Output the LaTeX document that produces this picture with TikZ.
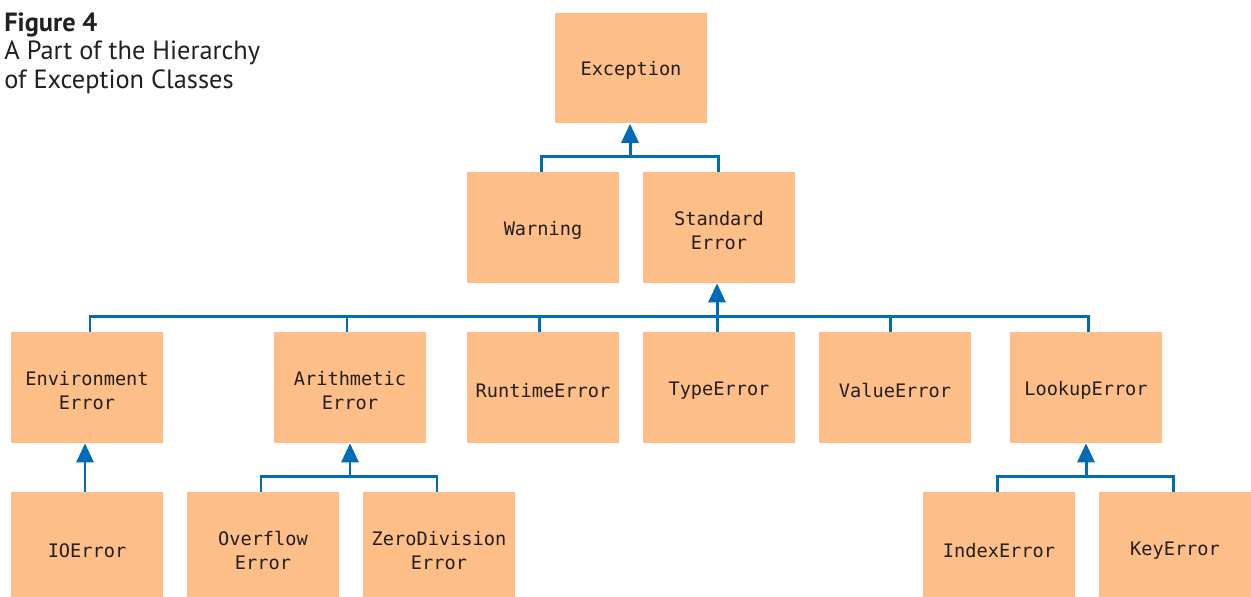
\documentclass[tikz,border=0pt]{standalone}
\usepackage{fontspec}
\setmainfont{PT Sans}
\setmonofont{DejaVu Sans Mono}
\usetikzlibrary{arrows.meta}
\definecolor{boxfill}{RGB}{253,191,135}
\definecolor{linkblue}{RGB}{0,108,183}
\definecolor{txt}{RGB}{35,31,32}
\tikzset{
  cls/.style={fill=boxfill, draw=none, minimum width=3.04cm, minimum height=2.22cm, inner sep=0pt},
  lbl/.style={align=center, font=\ttfamily\fontsize{10.6}{13.6}\selectfont, text=txt, inner sep=0pt, yshift=-1.6pt},
  link/.style={draw=linkblue, line width=1.7pt},
  up/.style={link, -{Triangle[width=0.34cm,length=0.38cm]}}
}
\begin{document}
\begin{tikzpicture}[x=0.02cm,y=-0.02cm]
\useasboundingbox (0,0) rectangle (1251,596);
\begin{scope}
\clip (0,0) rectangle (1251,596);
\node[anchor=north west, align=left, text=txt, font=\fontsize{15}{16.4}\selectfont, inner sep=0pt] (title) at (4,12)
  {\textbf{Figure 4}\\A Part of the Hierarchy\\of Exception Classes};

\node[cls, label={[lbl]center:Exception}] (exc) at (631,68) {};
\node[cls, label={[lbl]center:Warning}] (warn) at (543,227.5) {};
\node[cls, label={[lbl]center:{Standard\\Error}}] (std) at (719,227.5) {};

\node[cls, label={[lbl]center:{Environment\\Error}}] (env) at (87,387.5) {};
\node[cls, label={[lbl]center:{Arithmetic\\Error}}] (arith) at (350,387.5) {};
\node[cls, label={[lbl]center:RuntimeError}] (runt) at (543,387.5) {};
\node[cls, label={[lbl]center:TypeError}] (type) at (719,387.5) {};
\node[cls, label={[lbl]center:ValueError}] (val) at (895,387.5) {};
\node[cls, label={[lbl]center:LookupError}] (look) at (1086,387.5) {};

\node[cls, label={[lbl]center:IOError}] (io) at (87,547.5) {};
\node[cls, label={[lbl]center:{Overflow\\Error}}] (over) at (263,547.5) {};
\node[cls, label={[lbl]center:{ZeroDivision\\Error}}] (zero) at (439,547.5) {};
\node[cls, label={[lbl]center:IndexError}] (idx) at (999,547.5) {};
\node[cls, label={[lbl]center:KeyError}] (key) at (1175,547.5) {};

% Exception subtree
\coordinate (j1) at (630,156);
\draw[link] ([xshift=-0.04cm]warn.north) |- (j1) -| ([xshift=-0.02cm]std.north);
\draw[up] (j1) -- (exc.south -| j1);

% StandardError subtree
\coordinate (j2) at (717,316);
\draw[link] ([xshift=0.06cm]env.north) |- (j2) -| ([xshift=0.04cm]look.north);
\draw[link] ([xshift=-0.06cm]arith.north) -- ([xshift=-0.06cm]arith.north |- j2);
\draw[link] ([xshift=-0.08cm]runt.north) -- ([xshift=-0.08cm]runt.north |- j2);
\draw[link] ([xshift=-0.1cm]val.north) -- ([xshift=-0.1cm]val.north |- j2);
\draw[link] (type.north -| j2) -- (j2);
\draw[up] (j2) -- (std.south -| j2);

% EnvironmentError subtree
\draw[up] ([xshift=-0.04cm]io.north) -- ([xshift=-0.04cm]env.south);

% ArithmeticError subtree
\coordinate (j3) at (350,476);
\draw[link] ([xshift=-0.04cm]over.north) |- (j3) -| ([xshift=-0.04cm]zero.north);
\draw[up] (j3) -- (arith.south);

% LookupError subtree
\coordinate (j4) at (1086,476);
\draw[link] ([xshift=-0.04cm]idx.north) |- (j4) -| ([xshift=-0.04cm]key.north);
\draw[up] (j4) -- (look.south);
\end{scope}
\end{tikzpicture}
\end{document}
